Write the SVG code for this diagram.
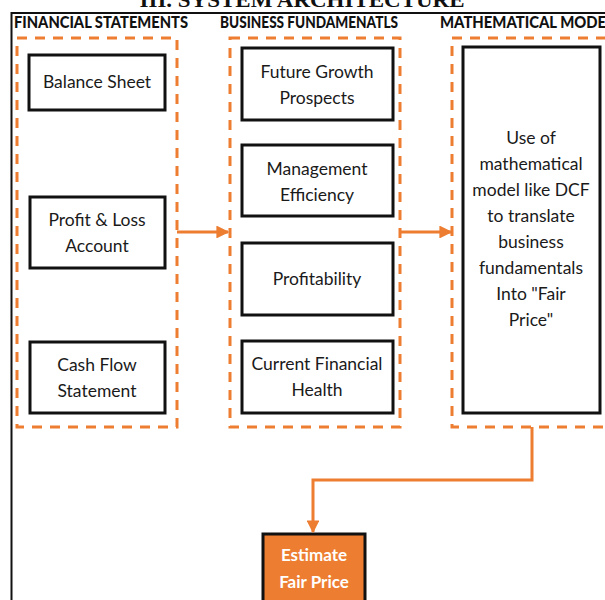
<svg xmlns="http://www.w3.org/2000/svg" width="605" height="600" viewBox="0 0 605 600">
<defs>
<style>
.title{font-family:"Liberation Serif",serif;font-weight:bold;font-size:21px;fill:#111}
.hdr{font-family:"Lato","Liberation Sans",sans-serif;font-weight:900;font-size:16px;fill:#111}
.grp{fill:none;stroke:#ED7D31;stroke-width:3;stroke-dasharray:10 8}
.box{fill:#fff;stroke:#111;stroke-width:3}
.lbl{font-family:"Lato","Liberation Sans",sans-serif;font-size:17.5px;fill:#1a1a1a;text-anchor:middle}
.conn{fill:none;stroke:#ED7D31;stroke-width:3}
.out{fill:#ED7D31;stroke:#111;stroke-width:3}
.outlbl{font-family:"Lato","Liberation Sans",sans-serif;font-weight:bold;font-size:17px;fill:#fff;text-anchor:middle}
</style>
<marker id="ah" viewBox="0 0 10 10" refX="9" refY="5" markerWidth="4.3" markerHeight="4.3" orient="auto" markerUnits="strokeWidth">
<path d="M0,0 L10,5 L0,10 z" fill="#ED7D31"/>
</marker>
</defs>
<rect width="605" height="600" fill="#fff"/>
<text class="title" x="302" y="7" text-anchor="middle" textLength="325" lengthAdjust="spacingAndGlyphs">III. SYSTEM ARCHITECTURE</text>
<path d="M11.5,600 V13 H605" fill="none" stroke="#111" stroke-width="2"/>
<text class="hdr" x="14" y="28" textLength="174" lengthAdjust="spacingAndGlyphs">FINANCIAL STATEMENTS</text>
<text class="hdr" x="220" y="28" textLength="178" lengthAdjust="spacingAndGlyphs">BUSINESS FUNDAMENATLS</text>
<text class="hdr" x="440" y="28" textLength="166" lengthAdjust="spacingAndGlyphs">MATHEMATICAL MODE</text>

<g id="financial-statements">
<rect class="grp" x="17" y="38" width="160" height="389"/>
</g>
<g id="business-fundamentals">
<rect class="grp" x="230" y="38" width="170" height="389"/>
</g>
<g id="mathematical-model">
<rect class="grp" x="452" y="38" width="160" height="389"/>
</g>

<g id="balance-sheet">
<rect class="box" x="29" y="55" width="136" height="55"/>
<text class="lbl" x="97" y="88">Balance Sheet</text>
</g>
<g id="profit-loss">
<rect class="box" x="30" y="197" width="135" height="71"/>
<text class="lbl" x="97" y="226">Profit &amp; Loss</text>
<text class="lbl" x="97" y="252">Account</text>
</g>
<g id="cash-flow">
<rect class="box" x="30" y="342" width="135" height="71"/>
<text class="lbl" x="97" y="371">Cash Flow</text>
<text class="lbl" x="97" y="397">Statement</text>
</g>

<g id="future-growth">
<rect class="box" x="242" y="48" width="151" height="72"/>
<text class="lbl" x="317" y="78">Future Growth</text>
<text class="lbl" x="317" y="104">Prospects</text>
</g>
<g id="management-efficiency">
<rect class="box" x="242" y="145" width="151" height="71"/>
<text class="lbl" x="317" y="175">Management</text>
<text class="lbl" x="317" y="201">Efficiency</text>
</g>
<g id="profitability">
<rect class="box" x="242" y="243" width="151" height="72"/>
<text class="lbl" x="317" y="285">Profitability</text>
</g>
<g id="current-financial-health">
<rect class="box" x="242" y="341" width="151" height="72"/>
<text class="lbl" x="317" y="370">Current Financial</text>
<text class="lbl" x="317" y="396">Health</text>
</g>

<g id="dcf-model">
<rect class="box" x="463" y="47" width="137" height="366"/>
<text class="lbl" x="531" y="144">Use of</text>
<text class="lbl" x="531" y="170">mathematical</text>
<text class="lbl" x="531" y="196">model like DCF</text>
<text class="lbl" x="531" y="222">to translate</text>
<text class="lbl" x="531" y="248">business</text>
<text class="lbl" x="531" y="274">fundamentals</text>
<text class="lbl" x="531" y="300">Into "Fair</text>
<text class="lbl" x="531" y="326">Price"</text>
</g>

<g id="estimate-fair-price">
<rect class="out" x="263" y="534" width="102" height="70"/>
<text class="outlbl" x="314" y="561">Estimate</text>
<text class="outlbl" x="314" y="588">Fair Price</text>
</g>

<g id="connectors">
<path class="conn" d="M177,232 H228" marker-end="url(#ah)"/>
<path class="conn" d="M400,232 H451" marker-end="url(#ah)"/>
<path class="conn" d="M532,427 V480 H313 V532" marker-end="url(#ah)"/>
</g>
</svg>
